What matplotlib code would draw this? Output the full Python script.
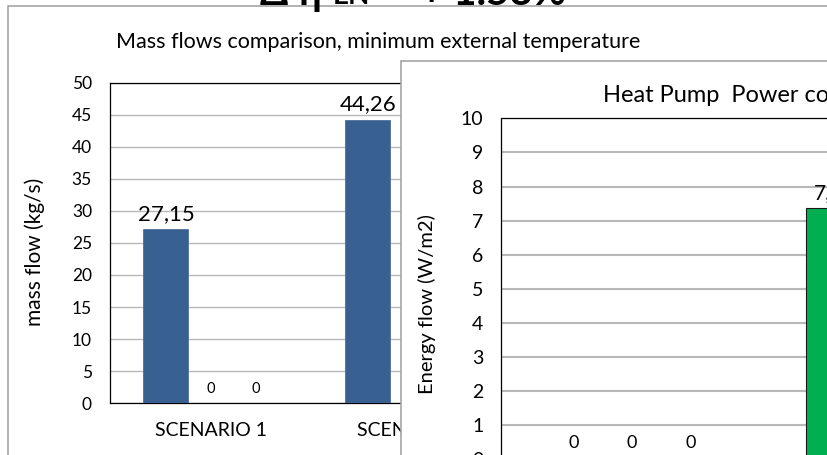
import matplotlib
matplotlib.use("Agg")
import matplotlib.pyplot as plt
from matplotlib.patches import Rectangle
import numpy as np

plt.rcParams["font.family"] = ["Lato", "DejaVu Sans"]

W, H = 827, 455

# chart 1: mass flows
mf_categories = ["SCENARIO 1", "SCENARIO 2"]
mf_series_a = [27.15, 44.26]
mf_series_b = [0, 0]
mf_series_c = [0, 0]

# chart 2: heat pump power (only first bars visible)
hp_categories = ["SCENARIO 1", "SCENARIO 2"]
hp_series_a = [0, 7.36]
hp_series_b = [0, 0]
hp_series_c = [0, 0]

BLUE = "#386191"
GREEN = "#00B050"
FRAME = "#A6A6A6"
GRID = "#B8B8B8"


def px_axes(fig, left, top, right, bottom):
    return fig.add_axes([left / W, 1 - bottom / H, (right - left) / W, (bottom - top) / H])


def fmt(v):
    return "0" if v == 0 else f"{v:.2f}".replace(".", ",")


fig = plt.figure(figsize=(W / 100, H / 100), dpi=100, facecolor="white")

# outer frames
fig.patches.append(Rectangle((8 / W, -0.1), 1.2, 1 - 6 / H + 0.1, transform=fig.transFigure,
                             facecolor="white", edgecolor=FRAME, lw=1.2, zorder=0.5))
fig.patches.append(Rectangle((401 / W, -0.1), 1.2, 1 - 61 / H + 0.1, transform=fig.transFigure,
                             facecolor="white", edgecolor=FRAME, lw=1.2, zorder=2))

# big headline, mostly cut off at top
fig.text(260 / W, 1 - 5 / H, "Δ η", fontsize=29, fontweight="bold", va="baseline", zorder=1)
fig.text(333 / W, 1 - 4 / H, "EN", fontsize=20, fontweight="bold", va="baseline", zorder=1)
fig.text(420 / W, 1 - 5 / H, "+ 1.53%", fontsize=29, fontweight="bold", va="baseline", zorder=1)

# ---- chart 1 ----
ax1 = px_axes(fig, 110, 83, 110 + 2 * 201.8, 403)
ax1.set_zorder(1)
x = np.arange(len(mf_categories))
bw = 0.223
for off, vals in zip([-bw, 0, bw], [mf_series_a, mf_series_b, mf_series_c]):
    bars = ax1.bar(x + off, vals, bw, color=BLUE, edgecolor="#4F6F9A", lw=0.6, zorder=3)
    for r, v in zip(bars, vals):
        ax1.annotate(fmt(v), (r.get_x() + r.get_width() / 2, v), xytext=(0, 5 if v == 0 else 4),
                     textcoords="offset points", ha="center", va="bottom",
                     fontsize=10.5 if v == 0 else 16, color="black")
ax1.set_xlim(-0.5, len(mf_categories) - 0.5)
ax1.set_ylim(0, 50)
ax1.set_yticks(range(0, 51, 5))
ax1.set_xticks(x)
ax1.set_xticklabels(mf_categories, fontsize=14)
ax1.tick_params(axis="y", length=0, pad=13, labelsize=12.5)
ax1.tick_params(axis="x", length=0, pad=14)
ax1.grid(axis="y", color=GRID, lw=1, zorder=0)
for s in ax1.spines.values():
    s.set_color("black")
    s.set_linewidth(0.9)
ax1.set_ylabel("mass flow (kg/s)", fontsize=15)
ax1.yaxis.set_label_coords((45 - 110) / (2 * 201.8), (403 - 252) / 320)
fig.text(378 / W, 1 - 42 / H, "Mass flows comparison, minimum external temperature",
         fontsize=15.5, ha="center", va="center", zorder=1)

# ---- chart 2 ----
ax2 = px_axes(fig, 501.5, 118.3, 501.5 + 2 * 261, 459.4)
ax2.set_zorder(3)
x2 = np.arange(len(hp_categories))
colors2 = [GREEN, "#C0504D", "#9BBB59"]
for off, vals, c in zip([-bw, 0, bw], [hp_series_a, hp_series_b, hp_series_c], colors2):
    bars = ax2.bar(x2 + off, vals, bw, color=c, edgecolor="#1a1a1a", lw=0.8, zorder=3)
    for r, v in zip(bars, vals):
        ax2.annotate(fmt(v), (r.get_x() + r.get_width() / 2, v), xytext=(0, 6 if v == 0 else 4),
                     textcoords="offset points", ha="center", va="bottom",
                     fontsize=13 if v == 0 else 15, color="black")
ax2.set_xlim(-0.5, len(hp_categories) - 0.5)
ax2.set_ylim(0, 10)
ax2.set_yticks(range(0, 11))
ax2.set_xticks(x2)
ax2.set_xticklabels(hp_categories, fontsize=13)
ax2.tick_params(axis="y", length=0, pad=13, labelsize=14)
ax2.tick_params(axis="x", length=0, pad=15)
ax2.grid(axis="y", color=GRID, lw=1.5, zorder=0)
for s in ax2.spines.values():
    s.set_color("black")
    s.set_linewidth(0.9)
ax2.set_ylabel("Energy flow (W/m2)", fontsize=14.5)
ax2.yaxis.set_label_coords((436 - 501.5) / 522, (459.4 - 304) / 341.1)
fig.text(603 / W, 1 - 95 / H, "Heat Pump  Power consumption comparison",
         fontsize=17, ha="left", va="center", zorder=4)

fig.savefig("out.png", dpi=100, facecolor="white")
